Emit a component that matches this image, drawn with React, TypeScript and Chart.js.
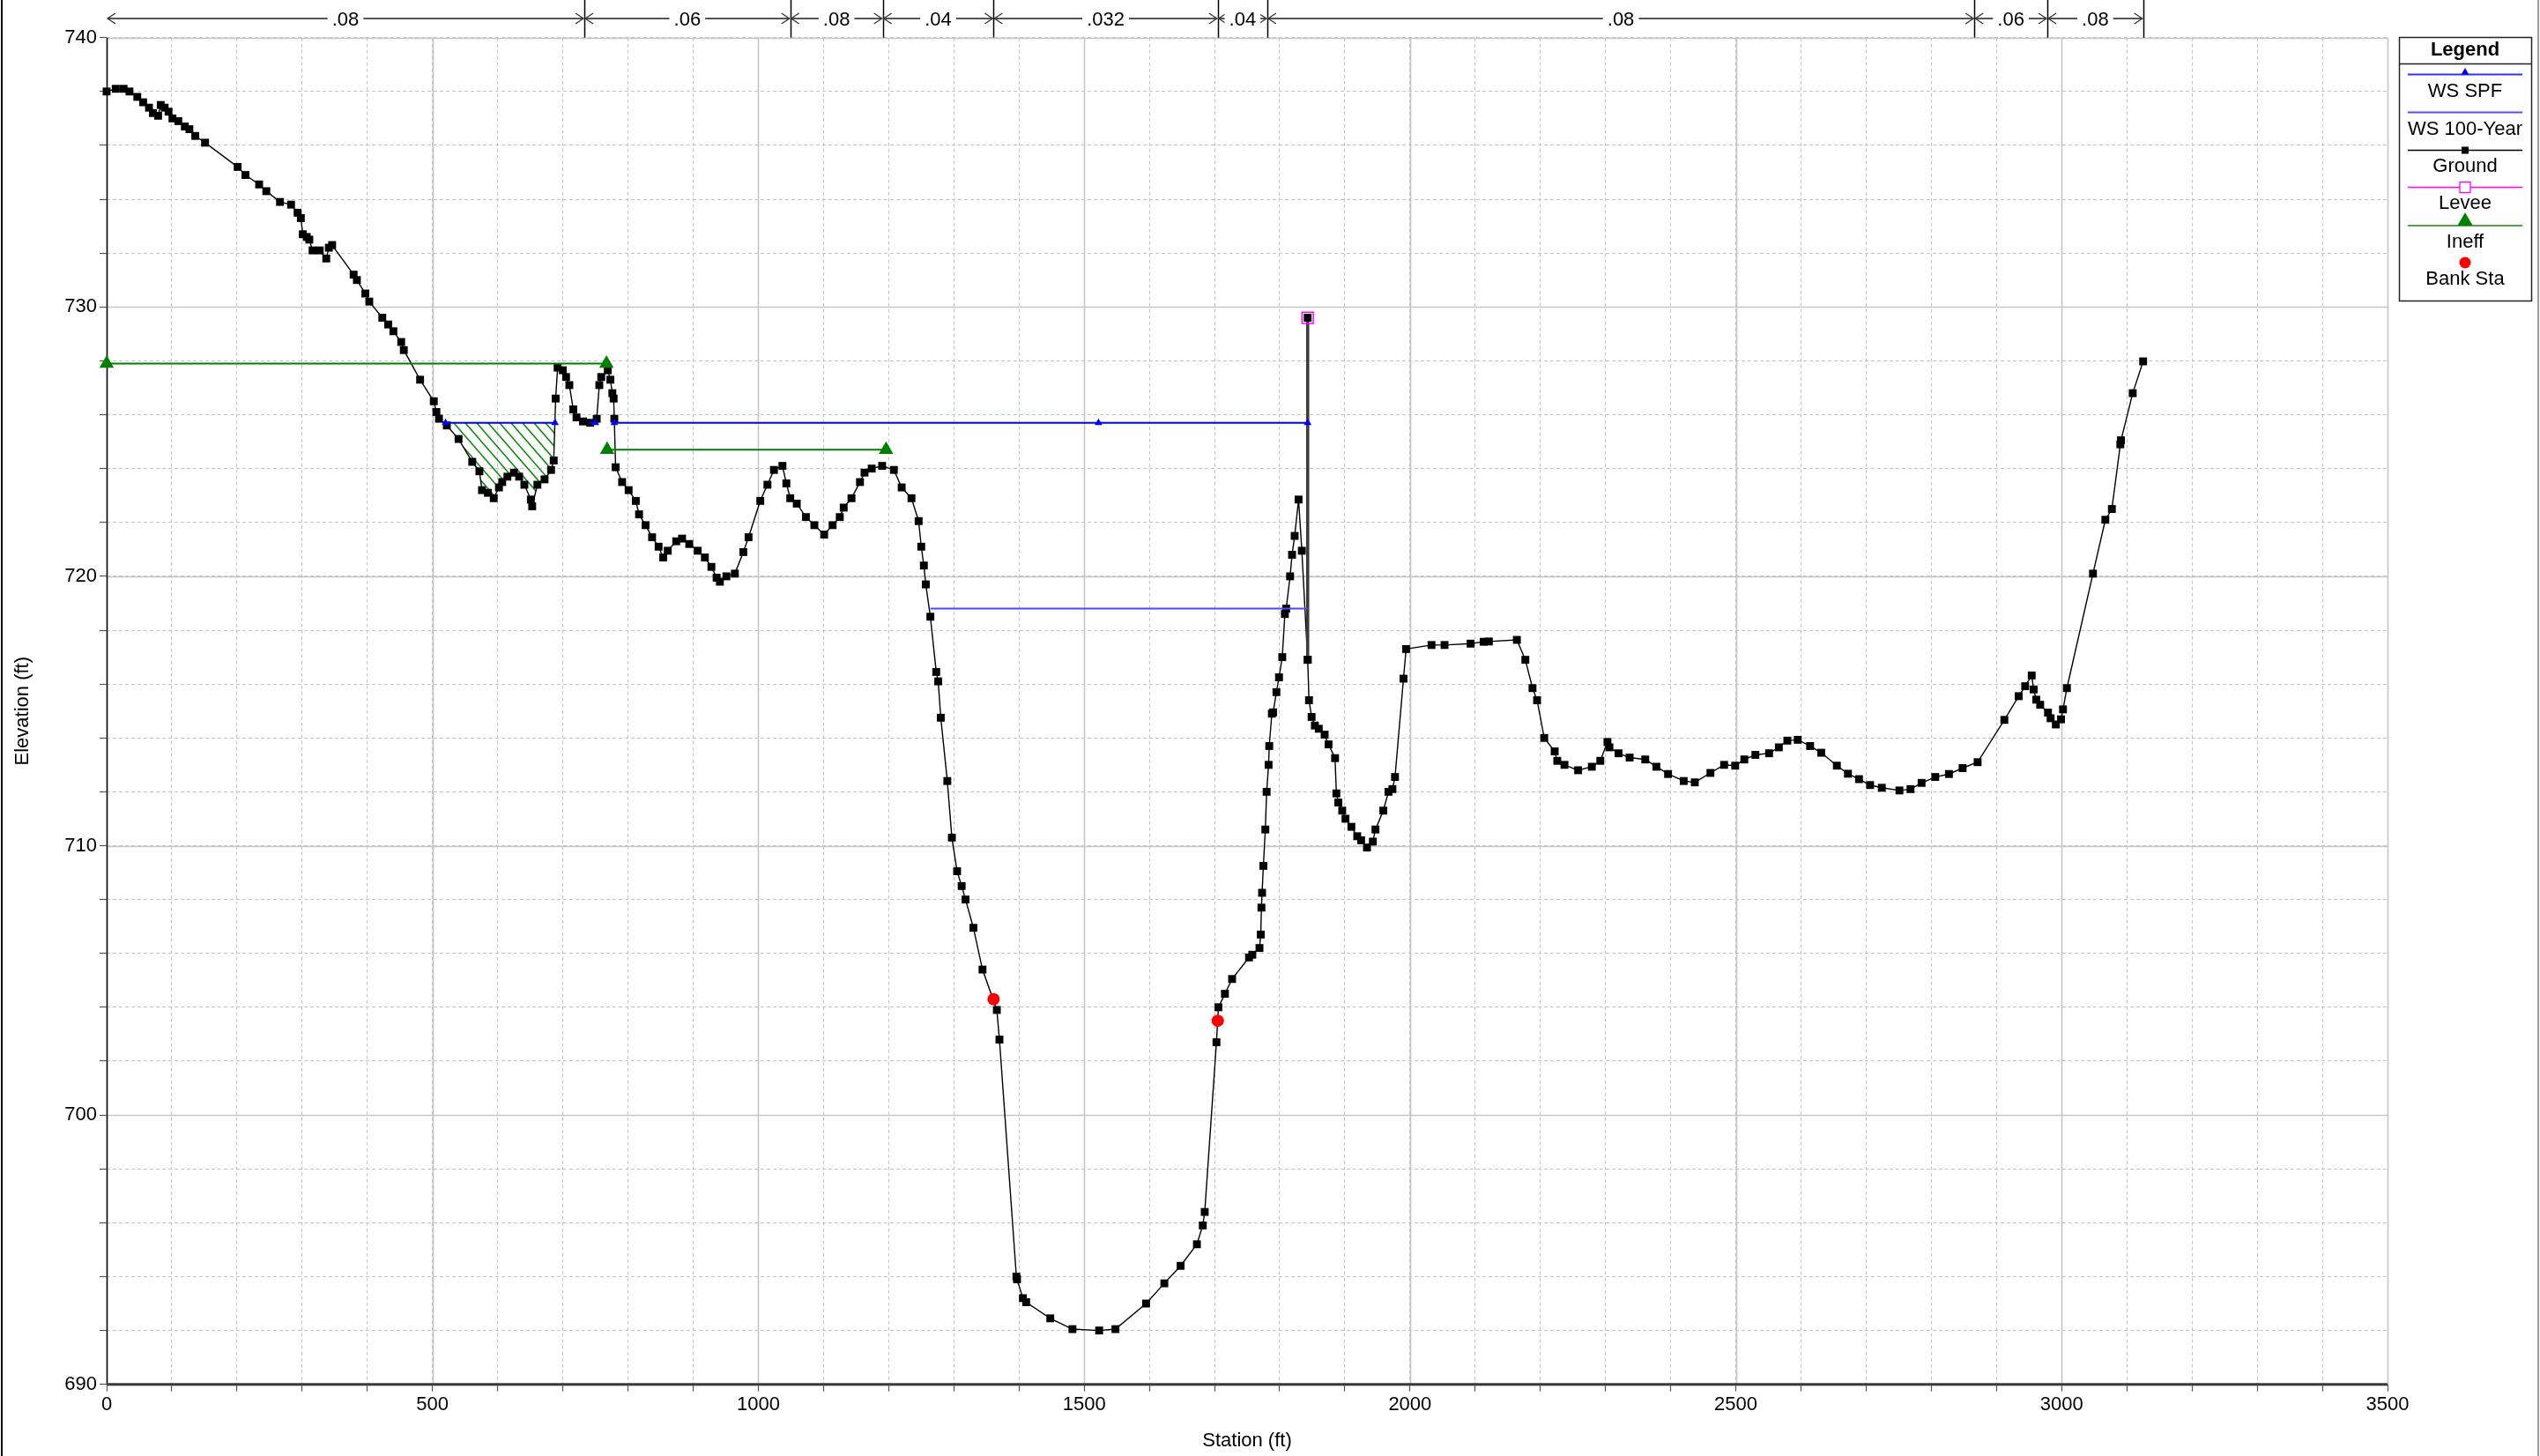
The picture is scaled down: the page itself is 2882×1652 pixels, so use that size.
import React, { useEffect, useRef } from "react";
import { Chart, registerables } from "chart.js";
Chart.register(...registerables);

const FONT = "'Liberation Sans', Arial, Helvetica, sans-serif";

// Ground profile
const groundStation = [
  0, 14, 26, 35, 47, 56, 65, 71, 79, 83, 89, 95, 101, 110, 120, 127, 136, 151, 201, 213,
  234, 245, 266, 283, 293, 298, 301, 307, 311, 316, 327, 337, 341, 346, 379, 384, 397, 403, 423, 432,
  440, 452, 456, 481, 502, 506, 510, 522, 540, 561, 572, 576, 585, 594, 602, 607, 615, 625, 633, 641,
  651, 653, 661, 672, 682, 686, 689, 692, 700, 705, 710, 716, 721, 731, 742, 752, 756, 759, 769, 773,
  776, 778, 779, 781, 791, 801, 812, 817, 827, 837, 847, 854, 861, 874, 883, 894, 907, 918, 928, 936,
  941, 951, 964, 977, 985, 1003, 1014, 1024, 1037, 1043, 1049, 1059, 1073, 1086, 1101, 1114, 1125, 1131, 1143, 1156,
  1163, 1174, 1190, 1208, 1220, 1235, 1246, 1250, 1254, 1257, 1264, 1273, 1276, 1280, 1290, 1297, 1305, 1312, 1318, 1330,
  1344, 1366, 1370, 1396, 1397, 1406, 1411, 1448, 1482, 1523, 1548, 1595, 1623, 1648, 1673, 1682, 1685, 1703, 1706, 1716,
  1727, 1753, 1758, 1769, 1771, 1772, 1773, 1775, 1778, 1780, 1783, 1784, 1788, 1790, 1795, 1799, 1804, 1808, 1810, 1816,
  1819, 1823, 1829, 1834, 1843, 1845, 1849, 1854, 1860, 1869, 1875, 1885, 1887, 1890, 1896, 1901, 1910, 1919, 1925, 1934,
  1943, 1947, 1959, 1967, 1973, 1977, 1990, 1994, 2033, 2053, 2093, 2113, 2121, 2164, 2177, 2188, 2195, 2206, 2222, 2226,
  2237, 2258, 2279, 2292, 2303, 2306, 2320, 2337, 2361, 2378, 2396, 2420, 2437, 2461, 2482, 2499, 2513, 2530, 2551, 2566,
  2579, 2595, 2614, 2631, 2655, 2672, 2689, 2706, 2724, 2751, 2768, 2785, 2806, 2827, 2848, 2871, 2912, 2934, 2944, 2954,
  2957, 2961, 2967, 2979, 2983, 2991, 2999, 3002, 3008, 3048, 3067, 3077, 3090, 3091, 3109, 3125,
];
const groundElevation = [
  738.0, 738.1, 738.1, 738.0, 737.8, 737.6, 737.4, 737.2, 737.1, 737.5, 737.4, 737.25, 737.0, 736.9, 736.7, 736.6, 736.35, 736.1, 735.2, 734.9,
  734.55, 734.3, 733.9, 733.8, 733.5, 733.3, 732.7, 732.6, 732.5, 732.1, 732.1, 731.8, 732.2, 732.3, 731.2, 731.0, 730.5, 730.2, 729.6, 729.35,
  729.1, 728.7, 728.4, 727.3, 726.5, 726.1, 725.85, 725.6, 725.1, 724.25, 723.9, 723.2, 723.1, 722.9, 723.3, 723.5, 723.7, 723.85, 723.7, 723.4,
  722.85, 722.6, 723.4, 723.6, 723.95, 724.3, 726.6, 727.75, 727.65, 727.4, 727.1, 726.2, 725.9, 725.75, 725.7, 725.85, 727.1, 727.4, 727.65, 727.3,
  726.8, 726.6, 725.85, 724.05, 723.5, 723.2, 722.8, 722.3, 721.9, 721.45, 721.1, 720.7, 720.95, 721.3, 721.4, 721.2, 720.95, 720.7, 720.35, 719.95,
  719.8, 720.0, 720.1, 720.9, 721.45, 722.8, 723.4, 723.95, 724.1, 723.45, 722.9, 722.7, 722.2, 721.9, 721.55, 721.9, 722.2, 722.55, 722.9, 723.5,
  723.85, 724.0, 724.1, 723.95, 723.3, 722.9, 722.05, 721.1, 720.4, 719.7, 718.5, 716.45, 716.1, 714.75, 712.4, 710.3, 709.05, 708.5, 708.0, 706.95,
  705.4, 703.9, 702.8, 694.0, 693.9, 693.2, 693.05, 692.45, 692.05, 692.0, 692.05, 693.0, 693.75, 694.4, 695.2, 695.9, 696.4, 702.7, 704.0, 704.5,
  705.05, 705.85, 705.95, 706.2, 706.7, 707.7, 708.25, 709.25, 710.6, 712.0, 713.0, 713.7, 714.9, 714.95, 715.7, 716.25, 717.0, 718.6, 718.8, 720.0,
  720.8, 721.5, 722.85, 720.95, 716.9, 715.4, 714.78, 714.46, 714.34, 714.12, 713.76, 713.25, 711.94, 711.6, 711.3, 711.0, 710.7, 710.35, 710.2, 709.93,
  710.15, 710.6, 711.3, 712.0, 712.1, 712.55, 716.2, 717.3, 717.45, 717.45, 717.5, 717.57, 717.58, 717.64, 716.9, 715.85, 715.4, 714.0, 713.5, 713.15,
  713.0, 712.8, 712.93, 713.15, 713.85, 713.65, 713.43, 713.27, 713.2, 712.93, 712.66, 712.4, 712.35, 712.7, 713.0, 712.97, 713.2, 713.37, 713.43, 713.65,
  713.9, 713.93, 713.7, 713.45, 712.97, 712.67, 712.47, 712.25, 712.15, 712.05, 712.1, 712.33, 712.55, 712.66, 712.88, 713.1, 714.67, 715.55, 715.92, 716.32,
  715.8, 715.42, 715.23, 714.94, 714.73, 714.5, 714.69, 715.06, 715.85, 720.1, 722.1, 722.5, 724.9, 725.05, 726.8, 727.98,
];

// Water surfaces (null = gap)
const wsSpfStation = [520, 688, 700, 740, 750, 760, 779, 1522, 1843];
const wsSpfElevation = [725.7, 725.7, null, 725.7, 725.7, null, 725.7, 725.7, 725.7];
const wsSpfMarker = [1, 1, 0, 0, 1, 0, 1, 1, 1];
const ws100Station = [1264, 1843];
const ws100Elevation = [718.8, 718.8];

// Levee
const leveeStation = [1843];
const leveeElevation = [729.6];
const leveeGroundElevation = 716.9;

// Ineffective flow areas
const ineffStation = [0, 767, 767.5, 768, 1196];
const ineffElevation = [727.9, 727.9, null, 724.7, 724.7];

// Bank stations
const bankStation = [1361, 1705];
const bankElevation = [704.3, 703.5];

// Manning's n
const nBreaks = [0, 733, 1049, 1191, 1361, 1705, 1781, 2866, 2978, 3125];
const nValues = [".08", ".06", ".08", ".04", ".032", ".04", ".08", ".06", ".08"];

// x ticks / y ticks
const xMin = 0, xMax = 3500, xMinor = 100, xMajor = 500;
const yMin = 690, yMax = 740, yMinor = 2, yMajor = 10;

const toXY = (xs: number[], ys: (number | null)[]) => xs.map((x, i) => ({ x, y: ys[i] }));

const overlayPlugin = {
  id: "overlay",
  beforeDatasetsDraw(chart: any) {
    const { ctx, chartArea: ca, scales } = chart;
    const x = scales.x, y = scales.y;
    ctx.save();
    // major grid
    ctx.strokeStyle = "#c6c6c6";
    ctx.lineWidth = 1.6;
    ctx.setLineDash([]);
    for (let v = xMin; v <= xMax; v += xMajor) {
      const px = Math.round(x.getPixelForValue(v)) + 0.5;
      ctx.beginPath(); ctx.moveTo(px, ca.top); ctx.lineTo(px, ca.bottom); ctx.stroke();
    }
    for (let v = yMin; v <= yMax; v += yMajor) {
      const py = Math.round(y.getPixelForValue(v)) + 0.5;
      ctx.beginPath(); ctx.moveTo(ca.left, py); ctx.lineTo(ca.right, py); ctx.stroke();
    }
    // hatch in ineffective wet area
    const wsL = wsSpfStation[0], wsR = wsSpfStation[1], wsE = wsSpfElevation[0] as number;
    const poly: number[][] = [[x.getPixelForValue(wsL), y.getPixelForValue(wsE)]];
    groundStation.forEach((s, i) => {
      if (s > wsL && s < wsR) poly.push([x.getPixelForValue(s), y.getPixelForValue(groundElevation[i])]);
    });
    poly.push([x.getPixelForValue(wsR), y.getPixelForValue(wsE)]);
    let minX = Infinity, maxX = -Infinity, minY = Infinity, maxY = -Infinity;
    ctx.beginPath();
    poly.forEach(([px, py], i) => {
      if (i === 0) ctx.moveTo(px, py); else ctx.lineTo(px, py);
      minX = Math.min(minX, px); maxX = Math.max(maxX, px);
      minY = Math.min(minY, py); maxY = Math.max(maxY, py);
    });
    ctx.closePath();
    ctx.save();
    ctx.clip();
    ctx.strokeStyle = "#118a11";
    ctx.lineWidth = 1.6;
    const h = maxY - minY;
    for (let c = minX - h * 1.2 - 20; c < maxX + 20; c += 13) {
      ctx.beginPath(); ctx.moveTo(c, minY); ctx.lineTo(c + h / 1.15, maxY); ctx.stroke();
    }
    ctx.restore();
    // axes lines
    ctx.strokeStyle = "#000";
    ctx.lineWidth = 1.5;
    ctx.beginPath(); ctx.moveTo(ca.left + 0.5, ca.top); ctx.lineTo(ca.left + 0.5, ca.bottom); ctx.stroke();
    ctx.strokeStyle = "#3a3a3a";
    ctx.lineWidth = 3;
    ctx.beginPath(); ctx.moveTo(ca.left, ca.bottom); ctx.lineTo(ca.right, ca.bottom); ctx.stroke();
    ctx.restore();
  },
  afterDraw(chart: any) {
    const { ctx, chartArea: ca, scales, width, height } = chart;
    const x = scales.x;
    ctx.save();
    // frame edges
    ctx.strokeStyle = "#000"; ctx.lineWidth = 2;
    ctx.beginPath(); ctx.moveTo(2, 0); ctx.lineTo(2, height); ctx.stroke();
    ctx.strokeStyle = "#9a9a9a";
    ctx.beginPath(); ctx.moveTo(width - 2, 0); ctx.lineTo(width - 2, height); ctx.stroke();

    // Manning's n bar
    const barY = 21;
    ctx.strokeStyle = "#000"; ctx.lineWidth = 1.5;
    for (let i = 1; i < nBreaks.length; i++) {
      const px = Math.round(x.getPixelForValue(nBreaks[i])) + 0.5;
      ctx.beginPath(); ctx.moveTo(px, 0); ctx.lineTo(px, ca.top); ctx.stroke();
    }
    ctx.font = `22px ${FONT}`;
    ctx.textAlign = "center";
    ctx.textBaseline = "middle";
    for (let i = 0; i < nValues.length; i++) {
      const a = x.getPixelForValue(nBreaks[i]);
      const b = x.getPixelForValue(nBreaks[i + 1]);
      ctx.strokeStyle = "#555"; ctx.lineWidth = 2;
      ctx.beginPath(); ctx.moveTo(a + 1, barY); ctx.lineTo(b - 1, barY); ctx.stroke();
      ctx.strokeStyle = "#333"; ctx.lineWidth = 1.3;
      ctx.beginPath();
      ctx.moveTo(a + 10, barY - 6); ctx.lineTo(a + 1, barY); ctx.lineTo(a + 10, barY + 6);
      ctx.moveTo(b - 10, barY - 6); ctx.lineTo(b - 1, barY); ctx.lineTo(b - 10, barY + 6);
      ctx.stroke();
      const cx = (a + b) / 2;
      const tw = ctx.measureText(nValues[i]).width;
      ctx.fillStyle = "#fff";
      ctx.fillRect(cx - tw / 2 - 5, barY - 12, tw + 10, 24);
      ctx.fillStyle = "#000";
      ctx.fillText(nValues[i], cx, barY + 2);
    }

    // Legend
    const lx = 2722, ly = 42, lw = 150, lh = 299;
    const cx = lx + lw / 2;
    ctx.fillStyle = "#fff";
    ctx.fillRect(lx, ly, lw, lh);
    ctx.strokeStyle = "#222"; ctx.lineWidth = 1.5;
    ctx.strokeRect(lx + 0.5, ly + 0.5, lw, lh);
    ctx.beginPath(); ctx.moveTo(lx, 72.5); ctx.lineTo(lx + lw, 72.5); ctx.stroke();
    ctx.fillStyle = "#000";
    ctx.font = `bold 22px ${FONT}`;
    ctx.fillText("Legend", cx, 57);
    ctx.font = `22px ${FONT}`;
    const x0 = 2732, x1 = 2862;
    const line = (yy: number, color: string, w: number) => {
      ctx.strokeStyle = color; ctx.lineWidth = w;
      ctx.beginPath(); ctx.moveTo(x0, yy); ctx.lineTo(x1, yy); ctx.stroke();
    };
    const tri = (yy: number, r: number, color: string) => {
      ctx.fillStyle = color;
      ctx.beginPath();
      ctx.moveTo(cx, yy - r); ctx.lineTo(cx + r * 0.866, yy + r * 0.5); ctx.lineTo(cx - r * 0.866, yy + r * 0.5);
      ctx.closePath(); ctx.fill();
    };
    line(84.5, "#3030ff", 2); tri(82, 5, "#0000ff");
    ctx.fillStyle = "#000"; ctx.fillText("WS SPF", cx, 104);
    line(127.5, "#5050ff", 2);
    ctx.fillStyle = "#000"; ctx.fillText("WS 100-Year", cx, 147);
    line(170.5, "#000", 1.5);
    ctx.fillStyle = "#000"; ctx.fillRect(cx - 4, 166.5, 8, 8);
    ctx.fillText("Ground", cx, 189);
    line(212.5, "#ff00ff", 1.5);
    ctx.strokeStyle = "#ff00ff"; ctx.lineWidth = 1.3;
    ctx.fillStyle = "#fff"; ctx.fillRect(cx - 6, 206.5, 12, 12);
    ctx.strokeRect(cx - 6, 206.5, 12, 12);
    ctx.fillStyle = "#000"; ctx.fillText("Levee", cx, 231);
    line(256, "#4ca64c", 2); tri(251, 10, "#008000");
    ctx.fillStyle = "#000"; ctx.fillText("Ineff", cx, 275);
    ctx.fillStyle = "#ff0000";
    ctx.beginPath(); ctx.arc(cx, 298, 6.5, 0, Math.PI * 2); ctx.fill();
    ctx.fillStyle = "#000"; ctx.fillText("Bank Sta", cx, 317);
    ctx.restore();
  },
};

export default function App() {
  const ref = useRef<HTMLCanvasElement | null>(null);
  useEffect(() => {
    document.body.style.margin = "0";
    Chart.defaults.font.family = FONT;
    const canvas = ref.current!;
    const chart = new Chart(canvas, {
      type: "scatter",
      data: {
        datasets: [
          {
            label: "Bank Sta",
            data: toXY(bankStation, bankElevation),
            showLine: false,
            pointStyle: "circle",
            pointRadius: 7,
            backgroundColor: "#ff0000",
            borderColor: "#ff0000",
            borderWidth: 0,
            clip: false,
            order: 0,
          },
          {
            label: "Levee",
            data: toXY(leveeStation, leveeElevation),
            showLine: false,
            pointStyle: "rect",
            pointRadius: 9,
            backgroundColor: "rgba(0,0,0,0)",
            borderColor: "#ff00ff",
            pointBorderWidth: 1.5,
            clip: false,
            order: 1,
          },
          {
            label: "Ineff",
            data: toXY(ineffStation, ineffElevation),
            showLine: true,
            spanGaps: false,
            borderColor: "#008000",
            borderWidth: 2,
            pointStyle: "triangle",
            pointRadius: 9.5,
            backgroundColor: "#008000",
            pointBorderWidth: 0,
            clip: false,
            order: 2,
          },
          {
            label: "WS SPF",
            data: toXY(wsSpfStation, wsSpfElevation),
            showLine: true,
            spanGaps: false,
            borderColor: "#0000ff",
            borderWidth: 2,
            pointStyle: "triangle",
            pointRadius: wsSpfMarker.map((m) => (m ? 5 : 0)),
            backgroundColor: "#0000ff",
            pointBorderWidth: 0,
            clip: false,
            order: 3,
          },
          {
            label: "WS 100-Year",
            data: toXY(ws100Station, ws100Elevation),
            showLine: true,
            borderColor: "#4a4aff",
            borderWidth: 2,
            pointRadius: 0,
            order: 4,
          },
          {
            label: "LeveeWall",
            data: toXY([leveeStation[0], leveeStation[0]], [leveeGroundElevation, leveeElevation[0]]),
            showLine: true,
            borderColor: "#3a3a3a",
            borderWidth: 3.5,
            pointStyle: "rect",
            pointRadius: 6.3,
            backgroundColor: "#000",
            pointBorderWidth: 0,
            clip: false,
            order: 5,
          },
          {
            label: "Ground",
            data: toXY(groundStation, groundElevation),
            showLine: true,
            borderColor: "#000",
            borderWidth: 1.4,
            pointStyle: "rect",
            pointRadius: 6.3,
            backgroundColor: "#000",
            pointBorderWidth: 0,
            clip: false,
            order: 6,
          },
        ],
      },
      options: {
        animation: false,
        responsive: false,
        devicePixelRatio: 1,
        layout: { padding: { left: 0, right: 173, top: 42.7, bottom: 0 } },
        plugins: { legend: { display: false }, tooltip: { enabled: false } },
        scales: {
          x: {
            type: "linear",
            min: xMin,
            max: xMax,
            afterFit: (s: any) => { s.height = 81.3; },
            ticks: {
              stepSize: xMinor,
              autoSkip: false,
              maxRotation: 0,
              minRotation: 0,
              padding: 2,
              color: "#000",
              font: { size: 22, family: FONT },
              callback: (v: any) => (Number(v) % xMajor === 0 ? String(v) : ""),
            },
            grid: { color: "#c4c4c4", lineWidth: 1, drawTicks: true, tickLength: 8, tickColor: "#555", tickWidth: 1.2 },
            border: { display: false, dash: [4, 3] },
            title: { display: true, text: "Station (ft)", color: "#000", font: { size: 22, family: FONT }, padding: { top: 0, bottom: 4 } },
          },
          y: {
            type: "linear",
            min: yMin,
            max: yMax,
            afterFit: (s: any) => { s.width = 121; },
            ticks: {
              stepSize: yMinor,
              autoSkip: false,
              padding: 3,
              color: "#000",
              font: { size: 22, family: FONT },
              callback: (v: any) => (Number(v) % yMajor === 0 ? String(v) : ""),
            },
            grid: { color: "#c4c4c4", lineWidth: 1, drawTicks: true, tickLength: 8, tickColor: "#555", tickWidth: 1.2 },
            border: { display: false, dash: [4, 3] },
            title: { display: true, text: "Elevation (ft)", color: "#000", font: { size: 22, family: FONT }, padding: { top: 13, bottom: 0 } },
          },
        },
      },
      plugins: [overlayPlugin],
    } as any);
    return () => chart.destroy();
  }, []);
  return (
    <div style={{ width: 2882, height: 1652 }}>
      <canvas ref={ref} width={2882} height={1652} style={{ display: "block", width: 2882, height: 1652 }} />
    </div>
  );
}
